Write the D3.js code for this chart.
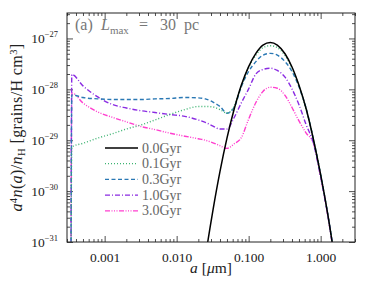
<!DOCTYPE html>
<html>
<head>
<meta charset="utf-8">
<script src="https://cdn.jsdelivr.net/npm/d3@7"></script>
<style>
  body { margin: 0; background: #fff; }
  svg text { font-family: "Liberation Serif", "DejaVu Serif", serif !important; }
</style>
</head>
<body>
<div id="chart"></div>
<script>
const width = 374
const height = 285
const margin = { top: 13, bottom: 43, left: 67, right: 19 }
const serif = "'Liberation Serif', 'DejaVu Serif', serif"

// grain radius grid (micron)
const sizes = [3.4e-4, 3.5e-4, 5e-4, 8e-4, 0.0013, 0.002, 0.0032, 0.005, 0.008, 0.013,
  0.02, 0.025, 0.032, 0.04, 0.05, 0.063, 0.079, 0.1, 0.126, 0.158,
  0.2, 0.25, 0.32, 0.4, 0.5, 0.63, 0.79, 1.0, 1.26, 1.58, 2.0]

// a^4 n(a)/nH, one array per age
const gyr00 = [null, null, null, null, null, null, null, null, null, null,
  5.4e-33, 4.9e-32, 4.3e-31, 2.45e-30, 1.1e-29, 4.1e-29, 1.2e-28, 2.8e-28, 5.1e-28, 7.4e-28,
  8.3e-28, 7.4e-28, 5.0e-28, 2.75e-28, 1.2e-28, 4.1e-29, 1.07e-29, 2.1e-30, 3.4e-31, 4.3e-32, 4.2e-33]
const gyr01 = [1e-32, 7.4e-30, 8.7e-30, 1.1e-29, 1.35e-29, 1.66e-29, 2.0e-29, 2.5e-29, 3.2e-29, 4.0e-29,
  4.6e-29, 4.6e-29, 4.5e-29, 4.0e-29, 3.4e-29, 4.7e-29, 1.17e-28, 2.7e-28, 4.7e-28, 6.6e-28,
  7.2e-28, 6.6e-28, 4.6e-28, 2.6e-28, 1.15e-28, 4.0e-29, 1.07e-29, 2.1e-30, 3.4e-31, 4.3e-32, 4.2e-33]
const gyr03 = [1e-32, 7.8e-29, 6.9e-29, 6.5e-29, 6.3e-29, 6.3e-29, 6.3e-29, 6.5e-29, 6.6e-29, 6.9e-29,
  6.8e-29, 6.5e-29, 5.6e-29, 4.6e-29, 3.4e-29, 4.4e-29, 1.12e-28, 2.24e-28, 3.5e-28, 4.7e-28,
  5.1e-28, 4.7e-28, 3.5e-28, 2.24e-28, 1.12e-28, 4.2e-29, 1.07e-29, 2.1e-30, 3.4e-31, 4.3e-32, 4.2e-33]
const gyr10 = [1e-32, 1.95e-28, 1.17e-28, 7.1e-29, 5.0e-29, 4.3e-29, 3.8e-29, 3.5e-29, 3.2e-29, 2.95e-29,
  2.5e-29, 2.24e-29, 1.9e-29, 1.66e-29, 1.66e-29, 2.8e-29, 5.4e-29, 1.02e-28, 2.0e-28, 2.45e-28,
  2.6e-28, 2.35e-28, 1.74e-28, 1.02e-28, 5.0e-29, 2.0e-29, 8.9e-30, 1.9e-30, 3.3e-31, 4.2e-32, 4.1e-33]
const gyr30 = [1e-32, 8.5e-29, 5.4e-29, 3.6e-29, 2.8e-29, 2.3e-29, 1.86e-29, 1.62e-29, 1.38e-29, 1.2e-29,
  1.07e-29, 1.0e-29, 8.9e-30, 7.8e-30, 6.9e-30, 8.5e-30, 1.12e-29, 2.6e-29, 5.5e-29, 9.1e-29,
  1.1e-28, 1.05e-28, 7.6e-29, 4.4e-29, 2.4e-29, 1.38e-29, 8.9e-30, 1.9e-30, 3.2e-31, 4.0e-32, 4.0e-33]

const labels = ["0.0Gyr", "0.1Gyr", "0.3Gyr", "1.0Gyr", "3.0Gyr"]
const colors = ["#000000", "#3cb371", "#2a78b4", "#8a2be2", "#ff3fcf"]
const dashes = [null, "1,2", "4,2.5", "5,2,1,2", "5,1.5,1,1.5,1,1.5,1,1.5"]
const series = [gyr00, gyr01, gyr03, gyr10, gyr30]

const xTicks = [0.001, 0.01, 0.1, 1]
const yTicks = [1e-31, 1e-30, 1e-29, 1e-28, 1e-27]

const svg = d3.select("#chart").append("svg").attr("width", width).attr("height", height)
  .attr("font-family", serif)
const w = width - margin.left - margin.right
const h = height - margin.top - margin.bottom
const g = svg.append("g").attr("transform", `translate(${margin.left}, ${margin.top})`)

const x = d3.scaleLog().domain([3e-4, 3]).range([0, w])
const y = d3.scaleLog().domain([1e-31, Math.pow(10, -26.5)]).range([h, 0])

// minor ticks
const xMinor = []
for (let e = -4; e <= 0; e++) for (let m = 2; m <= 9; m++) {
  const v = m * Math.pow(10, e)
  if (v >= 3e-4 && v <= 3) xMinor.push(v)
}
const yMinor = []
for (let e = -31; e <= -27; e++) for (let m = 2; m <= 9; m++) {
  const v = m * Math.pow(10, e)
  if (v <= Math.pow(10, -26.5)) yMinor.push(v)
}

function styleAxis(sel) {
  sel.attr("font-family", serif)
  sel.select(".domain").remove()
  sel.selectAll("line").attr("stroke", "#222").attr("stroke-width", 0.8)
}

// bottom / top
g.append("g").attr("transform", `translate(0,${h})`)
  .call(d3.axisBottom(x).tickValues(xTicks).tickSize(-6).tickPadding(10).tickFormat(d3.format(".3f")))
  .call(styleAxis)
  .selectAll("text").attr("font-size", 13.5).attr("fill", "#222")
g.append("g").attr("transform", `translate(0,${h})`)
  .call(d3.axisBottom(x).tickValues(xMinor).tickSize(-3).tickFormat(""))
  .call(styleAxis)
g.append("g")
  .call(d3.axisTop(x).tickValues(xTicks).tickSize(-6).tickFormat(""))
  .call(styleAxis)
g.append("g")
  .call(d3.axisTop(x).tickValues(xMinor).tickSize(-3).tickFormat(""))
  .call(styleAxis)

// left / right
g.append("g")
  .call(d3.axisLeft(y).tickValues(yTicks).tickSize(-6).tickFormat(""))
  .call(styleAxis)
g.append("g")
  .call(d3.axisLeft(y).tickValues(yMinor).tickSize(-3).tickFormat(""))
  .call(styleAxis)
g.append("g").attr("transform", `translate(${w},0)`)
  .call(d3.axisRight(y).tickValues(yTicks).tickSize(-6).tickFormat(""))
  .call(styleAxis)
g.append("g").attr("transform", `translate(${w},0)`)
  .call(d3.axisRight(y).tickValues(yMinor).tickSize(-3).tickFormat(""))
  .call(styleAxis)

// y tick labels with exponents
const yl = g.append("g").selectAll("text").data(yTicks).enter().append("text")
  .attr("x", -9).attr("y", d => y(d) + 4.5)
  .attr("text-anchor", "end").attr("font-size", 13.5).attr("fill", "#222")
yl.append("tspan").text("10")
yl.append("tspan").attr("dy", -6).attr("font-size", 8.5).text(d => "\u2212" + Math.round(-Math.log10(d)))

// curves
g.append("clipPath").attr("id", "clip").append("rect").attr("width", w).attr("height", h)
const line = d3.line()
  .defined(d => d[1] != null)
  .x(d => x(d[0]))
  .y(d => y(d[1]))
  .curve(d3.curveMonotoneX)

const plot = g.append("g").attr("clip-path", "url(#clip)")
series.slice().reverse().forEach((s, k) => {
  const i = series.length - 1 - k
  plot.append("path")
    .datum(sizes.map((a, j) => [a, s[j]]))
    .attr("d", line)
    .attr("fill", "none")
    .attr("stroke", colors[i])
    .attr("stroke-width", i === 0 ? 1.5 : 1.4)
    .attr("stroke-dasharray", dashes[i])
})

// frame
g.append("rect").attr("width", w).attr("height", h)
  .attr("fill", "none").attr("stroke", "#222").attr("stroke-width", 1)

// legend
const legend = g.append("g").attr("transform", "translate(38,135)")
labels.forEach((lab, i) => {
  const row = legend.append("g").attr("transform", `translate(0,${i * 15.7})`)
  row.append("line").attr("x1", 0).attr("x2", 33).attr("y1", 0).attr("y2", 0)
    .attr("stroke", colors[i]).attr("stroke-width", i === 0 ? 1.5 : 1.2)
    .attr("stroke-dasharray", dashes[i])
  row.append("text").attr("x", 37).attr("y", 4.5).attr("font-size", 14)
    .attr("fill", "#666").text(lab)
})

// panel title
const title = g.append("text").attr("y", 17).attr("font-size", 16).attr("fill", "#777")
title.append("tspan").attr("x", 8).text("(a)")
title.append("tspan").attr("x", 34).attr("font-style", "italic").text("L")
title.append("tspan").attr("dy", 3.5).attr("font-size", 11).text("max")
title.append("tspan").attr("x", 72).attr("dy", -3.5).text("=")
title.append("tspan").attr("x", 93).text("30")
title.append("tspan").attr("x", 117).text("pc")

// axis titles
const xt = svg.append("text")
  .attr("x", margin.left + w / 2).attr("y", 273)
  .attr("text-anchor", "middle").attr("font-size", 15.5).attr("fill", "#222")
xt.append("tspan").attr("font-style", "italic").text("a")
xt.append("tspan").text(" [")
xt.append("tspan").attr("font-style", "italic").text("\u03bc")
xt.append("tspan").text("m]")

const yt = svg.append("text")
  .attr("transform", `translate(22, ${margin.top + h / 2}) rotate(-90)`)
  .attr("text-anchor", "middle").attr("font-size", 16).attr("letter-spacing", 0.4).attr("fill", "#222")
yt.append("tspan").attr("font-style", "italic").text("a")
yt.append("tspan").attr("dy", -5.5).attr("font-size", 10.5).text("4")
yt.append("tspan").attr("dy", 5.5).attr("font-style", "italic").text("n")
yt.append("tspan").text("(")
yt.append("tspan").attr("font-style", "italic").text("a")
yt.append("tspan").text(")/")
yt.append("tspan").attr("font-style", "italic").text("n")
yt.append("tspan").attr("dy", 3).attr("font-size", 10.5).text("H")
yt.append("tspan").attr("dy", -3).text(" [grains/H cm")
yt.append("tspan").attr("dy", -5.5).attr("font-size", 10.5).text("3")
yt.append("tspan").attr("dy", 5.5).text("]")
</script>
</body>
</html>
